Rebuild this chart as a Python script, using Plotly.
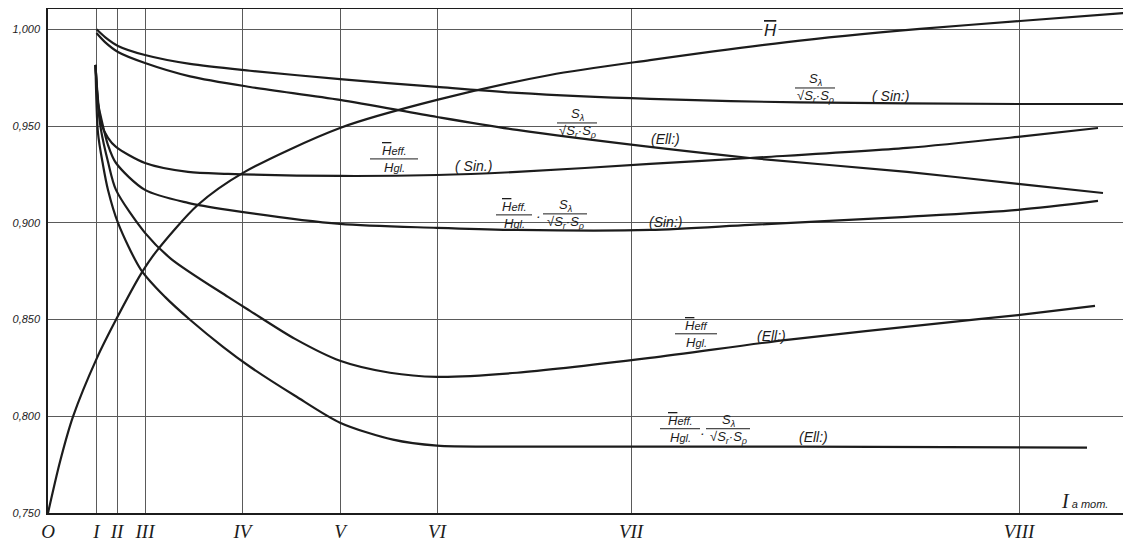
import plotly.graph_objects as go

# ---------------- data ----------------
stage_labels = ["O", "I", "II", "III", "IV", "V", "VI", "VII", "VIII"]
stage_x = [0.0, 4.85, 6.9, 9.7, 19.45, 29.2, 38.9, 58.3, 97.1]

y_tick_vals = [0.75, 0.80, 0.85, 0.90, 0.95, 1.00]
y_tick_text = ["0,750", "0,800", "0,850", "0,900", "0,950", "1,000"]

# H-bar
h_x = [0, 1.2, 2.5, 4.9, 6.9, 9.3, 10.8, 15.0, 19.5, 29.2, 38.9, 50.2, 60.2, 73.9, 87.2, 97.2, 108.3]
h_y = [0.750, 0.7765, 0.7998, 0.8302, 0.8509, 0.8736, 0.8850, 0.9093, 0.9258, 0.9490,
       0.9635, 0.9764, 0.9841, 0.9934, 1.0002, 1.0043, 1.0087]

# S_lambda / sqrt(Sr*Srho)  (Sin.)
s_sin_x = [4.85, 5.7, 7.0, 9.7, 14.2, 20.2, 29.2, 38.9, 46.9, 60.2, 75.2, 97.0, 108.3]
s_sin_y = [1.000, 0.9960, 0.9914, 0.9867, 0.9821, 0.9786, 0.9743, 0.9702, 0.9671, 0.9640,
           0.9622, 0.9614, 0.9614]

# S_lambda / sqrt(Sr*Srho)  (Ell.)
s_ell_x = [4.85, 5.7, 7.0, 9.7, 14.2, 20.2, 29.2, 38.9, 46.9, 60.2, 70.2, 85.9, 97.0, 105.5]
s_ell_y = [0.9981, 0.9934, 0.9883, 0.9826, 0.9757, 0.9702, 0.9635, 0.9547, 0.9480, 0.9392,
           0.9335, 0.9263, 0.9201, 0.9154]

# Heff / Hgl  (Sin.)
heff_sin_x = [4.75, 5.0, 5.3, 6.0, 6.8, 9.7, 14.0, 18.0, 29.2, 38.9, 46.9, 60.2, 70.2,
              85.9, 97.0, 105.0]
heff_sin_y = [0.9816, 0.9635, 0.9516, 0.9439, 0.9392, 0.9309, 0.9263, 0.9253, 0.9242,
              0.9247, 0.9263, 0.9304, 0.9335, 0.9387, 0.9444, 0.9490]

# Heff / Hgl * S_lambda / sqrt(Sr*Srho)  (Sin.)
prod_sin_x = [4.75, 5.0, 5.2, 6.0, 6.8, 9.7, 14.0, 18.0, 29.2, 38.9, 46.9, 60.2, 70.2,
              85.9, 97.0, 105.0]
prod_sin_y = [0.9816, 0.9619, 0.9568, 0.9402, 0.9309, 0.9170, 0.9103, 0.9067, 0.8994,
              0.8974, 0.8963, 0.8963, 0.8989, 0.9031, 0.9067, 0.9113]

# Heff / Hgl  (Ell.)
heff_ell_x = [4.75, 5.0, 5.3, 6.0, 6.8, 9.7, 12.3, 18.0, 20.2, 24.7, 29.2, 34.2, 38.9, 46.9,
              60.2, 73.9, 90.5, 97.2, 104.7]
heff_ell_y = [0.9816, 0.9609, 0.9480, 0.9315, 0.9170, 0.8948, 0.8814, 0.8617, 0.8545, 0.8400,
              0.8287, 0.8225, 0.8204, 0.8225, 0.8302, 0.8395, 0.8488, 0.8524, 0.8571]

# Heff / Hgl * S_lambda / sqrt(Sr*Srho)  (Ell.)
prod_ell_x = [4.75, 5.0, 5.5, 6.0, 7.0, 9.3, 11.7, 14.2, 17.5, 20.2, 24.7, 29.2, 34.5, 38.9,
              45.2, 57.2, 75.2, 103.9]
prod_ell_y = [0.9816, 0.9464, 0.9299, 0.9170, 0.9000, 0.8757, 0.8617, 0.8499, 0.8359, 0.8256,
              0.8106, 0.7967, 0.7879, 0.7848, 0.7843, 0.7843, 0.7843, 0.7838]

# ---------------- figure ----------------
INK = "#1c1c1c"
GRID = "#5a5a5a"
SANS = "Liberation Sans"
SERIF = "Liberation Serif"

fig = go.Figure()
for xs, ys in [(h_x, h_y), (s_sin_x, s_sin_y), (s_ell_x, s_ell_y),
               (heff_sin_x, heff_sin_y), (prod_sin_x, prod_sin_y),
               (heff_ell_x, heff_ell_y), (prod_ell_x, prod_ell_y)]:
    fig.add_trace(go.Scatter(x=xs, y=ys, mode="lines",
                             line=dict(color=INK, width=2.2, shape="spline", smoothing=0.8),
                             hoverinfo="skip", showlegend=False))


# layout helpers: convert drawing-pixel positions to axis coordinates
def X(px):
    return (px - 48) / 10.0


def Y(py):
    return 1 - (py - 29.3) * 0.0005165


annotations = []
shapes = []


def text(px, py, s, size=14, bg=None, family=SANS):
    d = dict(x=X(px), y=Y(py), xref="x", yref="y", text=s, showarrow=False,
             font=dict(family=family, size=size, color=INK, style="italic"),
             xanchor="center", yanchor="middle")
    if bg:
        d["bgcolor"] = bg
    annotations.append(d)


def frac(cx, bar_y, hw, num, den, size=13):
    text(cx, bar_y - 8, num, size)
    text(cx, bar_y + 9, den, size)
    shapes.append(dict(type="line", xref="x", yref="y", x0=X(cx - hw), x1=X(cx + hw),
                       y0=Y(bar_y), y1=Y(bar_y), line=dict(color=INK, width=1)))


HEFF = '<span style="text-decoration:overline">H</span><span style="font-size:11px">eff.</span>'
HEFF2 = '<span style="text-decoration:overline">H</span><span style="font-size:11px">eff</span>'
HGL = 'H<span style="font-size:11px">gl.</span>'
SL = 'S<sub>λ</sub>'
SQ = '√S<sub>r</sub>·S<sub>ρ</sub>'

# H-bar label
text(770, 30, '<span style="text-decoration:overline">H</span>', size=17, bg="white")
# S_lambda (Sin:)
frac(815, 88, 20, SL, SQ)
text(890, 96, "( Sin:)")
# S_lambda (Ell:)
frac(577, 123, 20, SL, SQ)
text(665, 139, "(Ell:)")
# Heff/Hgl (Sin.)
frac(394, 159, 24, HEFF, HGL)
text(473, 166, "( Sin.)")
# product (Sin:)
frac(514, 215, 18, HEFF, HGL)
text(538, 216, "·")
frac(565, 214, 22, SL, SQ)
text(665, 222, "(Sin:)")
# Heff/Hgl (Ell:)
frac(696, 334, 21, HEFF2, HGL)
text(771, 336, "(Ell:)")
# product (Ell:)
frac(680, 429, 20, HEFF, HGL)
text(702, 433, "·")
frac(728, 429, 22, SL, SQ)
text(813, 437, "(Ell:)")

# axis title  I_a mom.
annotations.append(dict(x=X(1084), y=Y(501), xref="x", yref="y", showarrow=False,
                        text='<span style="font-family:Liberation Serif;font-size:20px">I</span>'
                             '<span style="font-size:11px"> a mom.</span>',
                        font=dict(family=SANS, size=12, color=INK, style="italic"),
                        xanchor="center", yanchor="middle"))

# the page body adds an 8px offset, so the figure is 8px smaller with reduced margins
fig.update_layout(
    width=1123, height=533,
    margin=dict(l=40, r=0, t=1, b=28, autoexpand=False),
    paper_bgcolor="white", plot_bgcolor="white",
    annotations=annotations, shapes=shapes,
    xaxis=dict(range=[0, 108.3], tickmode="array", tickvals=stage_x, ticktext=stage_labels,
               showgrid=True, gridcolor=GRID, gridwidth=1, zeroline=False,
               showline=True, linecolor=INK, linewidth=1.5, mirror=True, ticks="",
               tickfont=dict(family=SERIF, size=19, color=INK, style="italic"),
               ticklabelstandoff=0, automargin=False, fixedrange=True),
    yaxis=dict(range=[0.75, 1.0105], tickmode="array", tickvals=y_tick_vals, ticktext=y_tick_text,
               showgrid=True, gridcolor=GRID, gridwidth=1, zeroline=False,
               showline=True, linecolor=INK, linewidth=1.5, ticks="",
               tickfont=dict(family=SANS, size=11, color=INK, style="italic"),
               ticklabelstandoff=4, automargin=False, fixedrange=True),
)

fig.write_html("out.html")
